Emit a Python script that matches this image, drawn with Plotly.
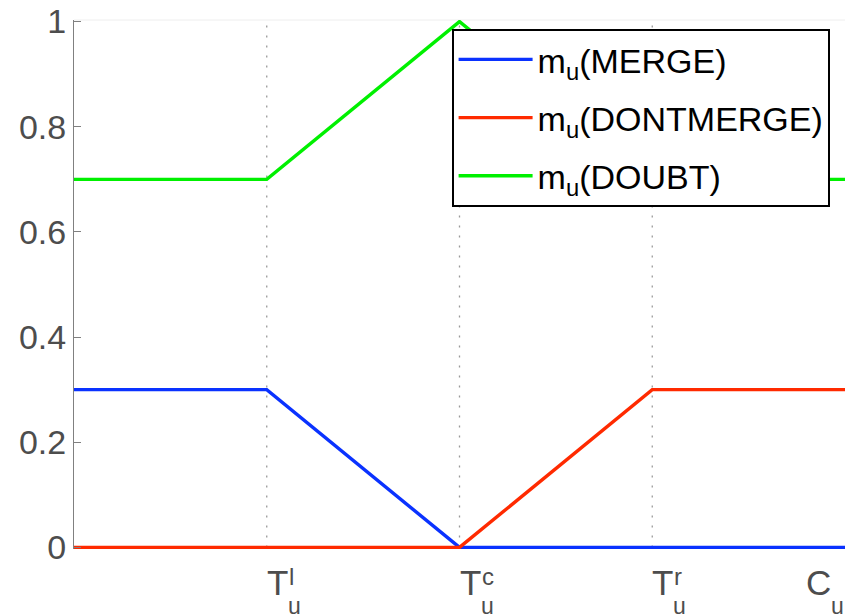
import plotly.graph_objects as go

# Data
x_pts = [0, 1, 2, 3, 4]
merge = [0.3, 0.3, 0.0, 0.0, 0.0]
dontmerge = [0.0, 0.0, 0.0, 0.3, 0.3]
doubt = [0.7, 0.7, 1.0, 0.7, 0.7]
series_names = ["m<sub>u</sub>(MERGE)", "m<sub>u</sub>(DONTMERGE)", "m<sub>u</sub>(DOUBT)"]
series_colors = ["#0a32ff", "#ff2a00", "#00f000"]

thresholds = [1, 2, 3]
tick_pos = [1, 2, 3, 3.8]
tick_main = ["T", "T", "T", "C"]
tick_sup = ["l", "c", "r", ""]
tick_sub = ["u", "u", "u", "u"]
y_ticks = [0, 0.2, 0.4, 0.6, 0.8, 1]

fig = go.Figure()
for i, (vals, name, col) in enumerate(zip([merge, dontmerge, doubt], series_names, series_colors)):
    fig.add_trace(go.Scatter(x=x_pts, y=vals, mode="lines", name=name,
                             line=dict(color=col, width=3.4), legendgroup=str(i),
                             cliponaxis=False))

for t in thresholds:
    fig.add_shape(type="line", x0=t, x1=t, y0=0, y1=1, xref="x", yref="y",
                  line=dict(color="#999999", width=1.3, dash="2px,8px"), layer="below")

font_lab = "Liberation Sans, Arial, sans-serif"
for p, m, sp, sb in zip(tick_pos, tick_main, tick_sup, tick_sub):
    fig.add_annotation(x=p, y=0, xref="x", yref="paper", text=m, showarrow=False,
                       xanchor="left", yanchor="top", yshift=-12, xshift=-2,
                       font=dict(size=35, color="#4d4d4d", family=font_lab))
    w = 19 if m == "T" else 23
    if sp:
        fig.add_annotation(x=p, y=0, xref="x", yref="paper", text=sp, showarrow=False,
                           xanchor="left", yanchor="top", yshift=-12, xshift=w + 1,
                           font=dict(size=24, color="#4d4d4d", family=font_lab))
    fig.add_annotation(x=p, y=0, xref="x", yref="paper", text=sb, showarrow=False,
                       xanchor="left", yanchor="bottom", yshift=-72, xshift=w,
                       font=dict(size=23, color="#4d4d4d", family=font_lab))

fig.update_layout(
    width=848, height=607,
    margin=dict(l=66, r=11, t=12, b=66, autoexpand=False),
    plot_bgcolor="white", paper_bgcolor="white",
    showlegend=True,
    legend=dict(x=0.490, y=0.983, xanchor="left", yanchor="top",
                bgcolor="white", bordercolor="black", borderwidth=1.8,
                font=dict(size=34, color="black", family=font_lab),
                itemwidth=74, traceorder="grouped", tracegroupgap=11),
    xaxis=dict(range=[0, 4], showgrid=False, zeroline=False, showticklabels=False,
               ticks="", showline=False, mirror=False, automargin=False),
    yaxis=dict(range=[-0.003, 1.003], tickvals=y_ticks, showgrid=False, zeroline=False,
               ticks="inside", ticklen=7, tickcolor="#808080", tickwidth=1,
               showline=True, linecolor="#808080", linewidth=1, automargin=False,
               ticklabeloverflow="allow",
               tickfont=dict(size=34, color="#4d4d4d", family=font_lab)),
)
fig.add_shape(type="line", x0=0, x1=1, y0=1, y1=1, xref="paper", yref="paper",
              line=dict(color="#eeeeee", width=1), layer="below")

fig.write_html("out.html")
